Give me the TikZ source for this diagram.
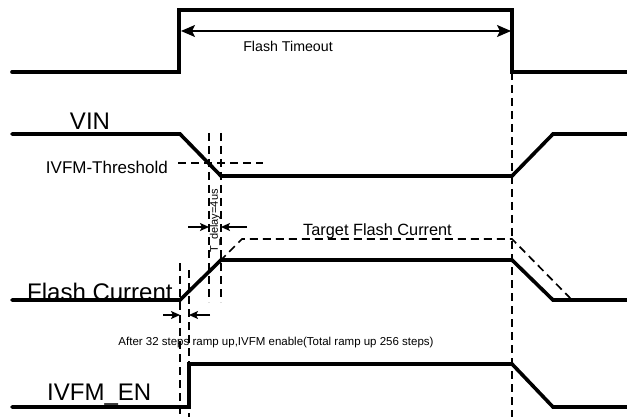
\documentclass[tikz,border=0pt]{standalone}
\usepackage{fontspec}
\setmainfont{Liberation Sans}
\usetikzlibrary{arrows.meta}
\begin{document}
\begin{tikzpicture}[x=1pt,y=-1pt,
  sig/.style={line width=3.6pt,line cap=round,line join=miter},
  guide/.style={line width=1.7pt,dash pattern=on 8pt off 5pt},
  dim/.style={line width=1.5pt},
  sdim/.style={line width=1.5pt,-{Stealth[length=9pt,width=8pt,inset=2pt]}},
  big/.style={font=\fontsize{24}{24}\selectfont,inner sep=0pt},
]
\useasboundingbox (0,0) rectangle (627,417);
% Top signal
\draw[sig] (12,72) -- (179,72) -- (179,10) -- (512,10) -- (512,72) -- (627,72);
\coordinate (tl) at (181,31);
\coordinate (tr) at (511,31);
\draw[dim,{Stealth[length=14pt,width=12pt,inset=3pt]}-{Stealth[length=14pt,width=12pt,inset=3pt]}] (tl) -- (tr);
\node[font=\fontsize{14.2}{14.2}\selectfont] (ft) at (288,46) {Flash Timeout};
% VIN
\draw[sig] (12,134) -- (180,134) -- (221,176) -- (512,176) -- (553,134) -- (627,134);
\node[big,anchor=base] (vin) at (90,130) {VIN};
\node[font=\fontsize{17}{17}\selectfont,anchor=east,inner sep=0pt] (thr) at (168,167) {IVFM-Threshold};
\draw[guide] (178,163) -- (263,163);
% guides
\draw[guide] (512,72) -- (512,417);
\draw[guide] (209,133) -- (209,302);
\draw[guide] (221,133) -- (221,302);
\draw[guide] (180,263) -- (180,417);
\draw[guide] (189,270) -- (189,417);
% T_delay
\node[rotate=90,font=\fontsize{11}{11}\selectfont,inner sep=0pt] (td) at (215,221) {T\_delay=4us};
\coordinate (a1) at (188,227);
\coordinate (a2) at (209,227);
\coordinate (a3) at (247,227);
\coordinate (a4) at (221,227);
\draw[sdim] (a1) -- (a2);
\draw[sdim] (a3) -- (a4);
% Flash current
\draw[guide] (220,261) -- (242,239) -- (512,239) -- (572,300);
\node[font=\fontsize{16.3}{16.3}\selectfont,anchor=base east,inner sep=0pt] (tfc) at (452,235) {Target Flash Current};
\draw[sig] (12,300) -- (180,300) -- (221,260) -- (512,260) -- (553,300) -- (627,300);
\node[big,anchor=base west] (fc) at (27,300) {Flash Current};
\coordinate (b1) at (163,315);
\coordinate (b2) at (180,315);
\coordinate (b3) at (210,315);
\coordinate (b4) at (189,315);
\draw[sdim] (b1) -- (b2);
\draw[sdim] (b3) -- (b4);
\node[font=\fontsize{11.5}{11.5}\selectfont,inner sep=0pt] (note) at (276,343) {After 32 steps ramp up,IVFM enable(Total ramp up 256 steps)};
% IVFM_EN
\draw[sig] (12,407) -- (189,407) -- (189,364) -- (512,364) -- (553,407) -- (627,407);
\node[big,anchor=base west] (en) at (47,400) {IVFM\_EN};
\end{tikzpicture}
\end{document}
